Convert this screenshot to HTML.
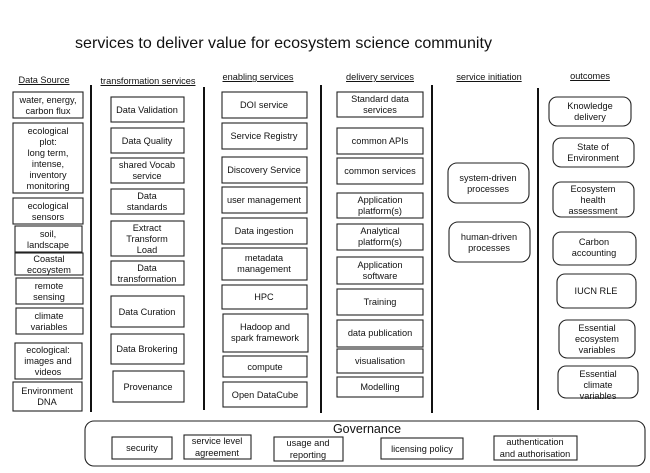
<!DOCTYPE html>
<html><head><meta charset="utf-8"><style>
html,body{margin:0;padding:0;background:#fff;}
svg{display:block;}
text{font-family:"Liberation Sans",sans-serif;fill:#111;}
</style></head><body>
<svg width="650" height="473" viewBox="0 0 650 473" xmlns="http://www.w3.org/2000/svg">
<text x="75" y="48" font-size="15.6" textLength="417" lengthAdjust="spacingAndGlyphs">services to deliver value for ecosystem science community</text>
<g font-size="9.2" text-anchor="middle" text-decoration="underline">
<text x="44" y="83">Data Source</text>
<text x="148" y="84">transformation services</text>
<text x="258" y="80">enabling services</text>
<text x="380" y="80">delivery services</text>
<text x="489" y="80">service initiation</text>
<text x="590" y="79">outcomes</text>
</g>
<g stroke="#111" stroke-width="2">
<line x1="91" y1="85" x2="91" y2="412"/>
<line x1="204" y1="87" x2="204" y2="410"/>
<line x1="321" y1="85" x2="321" y2="413"/>
<line x1="432" y1="85" x2="432" y2="413"/>
<line x1="538" y1="88" x2="538" y2="410"/>
</g>
<g fill="none" stroke="#222" stroke-width="1.1">
<rect x="13" y="92" width="70" height="26"/>
<rect x="13" y="123" width="70" height="70"/>
<rect x="13" y="198" width="70" height="26"/>
<rect x="15" y="226" width="67" height="26"/>
<rect x="15" y="253" width="68" height="22"/>
<rect x="16" y="278" width="67" height="26"/>
<rect x="16" y="308" width="67" height="26"/>
<rect x="15" y="343" width="67" height="36"/>
<rect x="13" y="382" width="69" height="29"/>
<rect x="111" y="97" width="73" height="25"/>
<rect x="111" y="128" width="73" height="25"/>
<rect x="111" y="158" width="73" height="25"/>
<rect x="111" y="189" width="73" height="25"/>
<rect x="111" y="221" width="73" height="35"/>
<rect x="111" y="261" width="73" height="24"/>
<rect x="111" y="296" width="73" height="31"/>
<rect x="111" y="334" width="73" height="30"/>
<rect x="113" y="371" width="71" height="31"/>
<rect x="222" y="92" width="85" height="26"/>
<rect x="222" y="123" width="85" height="26"/>
<rect x="222" y="157" width="85" height="26"/>
<rect x="222" y="187" width="85" height="26"/>
<rect x="222" y="218" width="85" height="26"/>
<rect x="222" y="248" width="85" height="32"/>
<rect x="222" y="285" width="85" height="24"/>
<rect x="223" y="314" width="85" height="38"/>
<rect x="223" y="356" width="84" height="21"/>
<rect x="223" y="382" width="84" height="25"/>
<rect x="337" y="92" width="86" height="25"/>
<rect x="337" y="128" width="86" height="26"/>
<rect x="337" y="158" width="86" height="26"/>
<rect x="337" y="193" width="86" height="25"/>
<rect x="337" y="224" width="86" height="26"/>
<rect x="337" y="257" width="86" height="27"/>
<rect x="337" y="289" width="86" height="26"/>
<rect x="337" y="320" width="86" height="27"/>
<rect x="337" y="349" width="86" height="24"/>
<rect x="337" y="377" width="86" height="20"/>
<rect x="448" y="163" width="81" height="40" rx="9"/>
<rect x="449" y="222" width="81" height="40" rx="9"/>
<rect x="549" y="97" width="82" height="29" rx="8"/>
<rect x="553" y="138" width="81" height="29" rx="8"/>
<rect x="553" y="182" width="81" height="35" rx="8"/>
<rect x="553" y="232" width="83" height="33" rx="8"/>
<rect x="557" y="274" width="79" height="34" rx="8"/>
<rect x="559" y="320" width="76" height="38" rx="8"/>
<rect x="558" y="366" width="80" height="32" rx="8"/>
<rect x="85" y="421" width="560" height="45" rx="9"/>
<rect x="112" y="437" width="60" height="22"/>
<rect x="184" y="435" width="67" height="24"/>
<rect x="274" y="437" width="69" height="24"/>
<rect x="381" y="438" width="82" height="21"/>
<rect x="494" y="436" width="83" height="24"/>
</g>
<g font-size="9.2" text-anchor="middle">
<text x="48" y="103">water, energy,</text><text x="48" y="114">carbon flux</text>
<text x="48" y="134">ecological</text><text x="48" y="145">plot:</text><text x="48" y="156">long term,</text><text x="48" y="167">intense,</text><text x="48" y="178">inventory</text><text x="48" y="189">monitoring</text>
<text x="48" y="209">ecological</text><text x="48" y="220">sensors</text>
<text x="48" y="237">soil,</text><text x="48" y="248">landscape</text>
<text x="49" y="262">Coastal</text><text x="49" y="273">ecosystem</text>
<text x="49" y="289">remote</text><text x="49" y="300">sensing</text>
<text x="49" y="319">climate</text><text x="49" y="330">variables</text>
<text x="48" y="353">ecological:</text><text x="48" y="364">images and</text><text x="48" y="375">videos</text>
<text x="47" y="394">Environment</text><text x="47" y="405">DNA</text>
<text x="147" y="113">Data Validation</text>
<text x="147" y="144">Data Quality</text>
<text x="147" y="168">shared Vocab</text><text x="147" y="179">service</text>
<text x="147" y="199">Data</text><text x="147" y="210">standards</text>
<text x="147" y="231">Extract</text><text x="147" y="242">Transform</text><text x="147" y="253">Load</text>
<text x="147" y="271">Data</text><text x="147" y="282">transformation</text>
<text x="147" y="315">Data Curation</text>
<text x="147" y="352">Data Brokering</text>
<text x="148" y="390">Provenance</text>
<text x="264" y="108">DOI service</text>
<text x="264" y="139">Service Registry</text>
<text x="264" y="173">Discovery Service</text>
<text x="264" y="203">user management</text>
<text x="264" y="234">Data ingestion</text>
<text x="264" y="261">metadata</text><text x="264" y="272">management</text>
<text x="264" y="300">HPC</text>
<text x="265" y="330">Hadoop and</text><text x="265" y="341">spark framework</text>
<text x="265" y="370">compute</text>
<text x="265" y="398">Open DataCube</text>
<text x="380" y="102">Standard data</text><text x="380" y="113">services</text>
<text x="380" y="144">common APIs</text>
<text x="380" y="174">common services</text>
<text x="380" y="203">Application</text><text x="380" y="214">platform(s)</text>
<text x="380" y="234">Analytical</text><text x="380" y="245">platform(s)</text>
<text x="380" y="268">Application</text><text x="380" y="279">software</text>
<text x="380" y="305">Training</text>
<text x="380" y="336">data publication</text>
<text x="380" y="364">visualisation</text>
<text x="380" y="390">Modelling</text>
<text x="488" y="181">system-driven</text><text x="488" y="192">processes</text>
<text x="489" y="240">human-driven</text><text x="489" y="251">processes</text>
<text x="590" y="109">Knowledge</text><text x="590" y="120">delivery</text>
<text x="593" y="150">State of</text><text x="593" y="161">Environment</text>
<text x="593" y="192">Ecosystem</text><text x="593" y="203">health</text><text x="593" y="214">assessment</text>
<text x="594" y="245">Carbon</text><text x="594" y="256">accounting</text>
<text x="596" y="294">IUCN RLE</text>
<text x="597" y="331">Essential</text><text x="597" y="342">ecosystem</text><text x="597" y="353">variables</text>
<text x="598" y="377">Essential</text><text x="598" y="388">climate</text><text x="598" y="399">variables</text>
<text x="142" y="451">security</text>
<text x="217" y="444">service level</text><text x="217" y="456">agreement</text>
<text x="308" y="446">usage and</text><text x="308" y="458">reporting</text>
<text x="422" y="452">licensing policy</text>
<text x="535" y="445">authentication</text><text x="535" y="457">and authorisation</text>
</g>
<text x="367" y="433" font-size="12.5" text-anchor="middle">Governance</text>
</svg>
</body></html>
